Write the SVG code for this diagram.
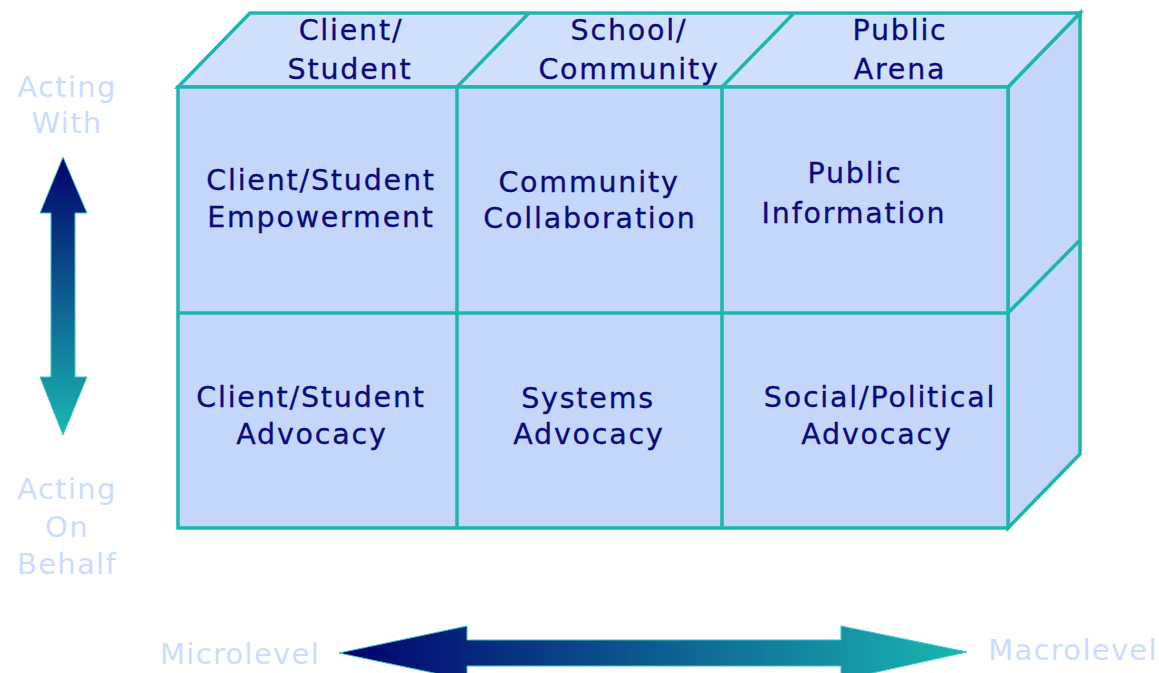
<svg xmlns="http://www.w3.org/2000/svg" width="1159" height="673" viewBox="0 0 1159 673">
<style>
.face{fill:#C4D6FA;stroke:#1DB6AE;stroke-width:3.5;stroke-linejoin:miter}
.top{fill:#D0DFFC;stroke:#1DB6AE;stroke-width:3.5}
.edge{fill:none;stroke:#1DB6AE;stroke-width:3.5}
.t{font-family:"DejaVu Sans","Liberation Sans",sans-serif;font-size:28.5px;letter-spacing:1.8px;fill:#0A0A7A;stroke:#0A0A7A;stroke-width:0.3;text-anchor:middle}
.lt{font-family:"DejaVu Sans","Liberation Sans",sans-serif;font-size:29px;letter-spacing:1.3px;fill:#CCDCFC;text-anchor:middle}
</style>
<defs>
<linearGradient id="gv" x1="0" y1="0" x2="0" y2="1">
<stop offset="0" stop-color="#00006E"/>
<stop offset="1" stop-color="#1AB7B2"/>
</linearGradient>
<linearGradient id="gh" x1="0" y1="0" x2="1" y2="0">
<stop offset="0" stop-color="#00006E"/>
<stop offset="1" stop-color="#1AB7B2"/>
</linearGradient>
</defs>
<rect width="1159" height="673" fill="#FFFFFF"/>

<g id="box">
<polygon class="face" points="1008,87 1080,13 1080,454 1008,528"/>
<line class="edge" x1="1008" y1="313" x2="1080" y2="240"/>
<polygon class="top" points="178,87 250,13 1080,13 1008,87"/>
<line class="edge" x1="457" y1="87" x2="529" y2="13"/>
<line class="edge" x1="722" y1="87" x2="794" y2="13"/>
<rect class="face" x="178" y="87" width="830" height="441"/>
<line class="edge" x1="457" y1="87" x2="457" y2="528"/>
<line class="edge" x1="722" y1="87" x2="722" y2="528"/>
<line class="edge" x1="178" y1="313" x2="1008" y2="313"/>
</g>

<g id="head-client">
<text class="t" x="351" y="40">Client/</text>
<text class="t" x="350" y="79">Student</text>
</g>
<g id="head-school">
<text class="t" x="629" y="40">School/</text>
<text class="t" x="629" y="79">Community</text>
</g>
<g id="head-public">
<text class="t" x="900" y="40">Public</text>
<text class="t" x="900" y="79">Arena</text>
</g>

<g id="cell-empowerment">
<text class="t" x="321" y="190">Client/Student</text>
<text class="t" x="321" y="227">Empowerment</text>
</g>
<g id="cell-collaboration">
<text class="t" x="589" y="192">Community</text>
<text class="t" x="590" y="228">Collaboration</text>
</g>
<g id="cell-information">
<text class="t" x="855" y="183">Public</text>
<text class="t" x="854" y="223">Information</text>
</g>
<g id="cell-client-advocacy">
<text class="t" x="311" y="407">Client/Student</text>
<text class="t" x="312" y="444">Advocacy</text>
</g>
<g id="cell-systems-advocacy">
<text class="t" x="588" y="408">Systems</text>
<text class="t" x="589" y="444">Advocacy</text>
</g>
<g id="cell-social-advocacy">
<text class="t" x="880" y="407">Social/Political</text>
<text class="t" x="877" y="444">Advocacy</text>
</g>

<g id="label-with">
<text class="lt" x="67" y="97">Acting</text>
<text class="lt" x="67" y="133">With</text>
</g>
<g id="label-behalf">
<text class="lt" x="67" y="499">Acting</text>
<text class="lt" x="67" y="537">On</text>
<text class="lt" x="67" y="574">Behalf</text>
</g>
<g id="label-micro">
<text class="lt" x="240" y="664">Microlevel</text>
</g>
<g id="label-macro">
<text class="lt" x="1073" y="660">Macrolevel</text>
</g>

<g id="connectors">
<polygon fill="url(#gv)" stroke="#3FC6C0" stroke-width="1" points="63,157 87,213 75,213 75,377 87,377 63,435 40,377 51,377 51,213 40,213"/>
<polygon fill="url(#gh)" stroke="#3FC6C0" stroke-width="1" points="339,653 467,626 467,640 841,640 841,626 967,652 841,680 841,666 467,666 467,680"/>
</g>
</svg>
